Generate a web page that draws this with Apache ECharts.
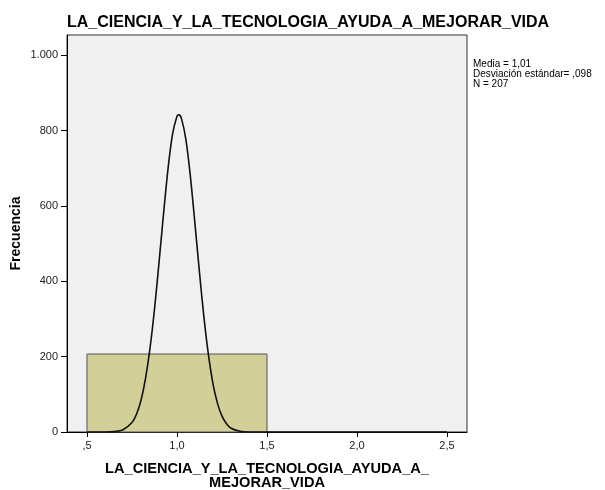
<!DOCTYPE html>
<html>
<head>
<meta charset="utf-8">
<script src="https://cdn.jsdelivr.net/npm/echarts@6/dist/echarts.min.js"></script>
<style>
  html, body { margin: 0; padding: 0; background: #fff; }
  #chart { width: 605px; height: 490px; }
</style>
</head>
<body>
<div id="chart"></div>
<script>
// histogram bins: [start, end, frequency]
const binStart = [0.5];
const binEnd = [1.5];
const binFreq = [207];

// normal curve
const curveX = [0.5, 0.6, 0.65, 0.7, 0.75, 0.775, 0.8, 0.825, 0.85, 0.875, 0.9, 0.925, 0.95, 0.975, 1.0, 1.01, 1.025, 1.05, 1.075, 1.1, 1.125, 1.15, 1.175, 1.2, 1.225, 1.25, 1.275, 1.3, 1.35, 1.4, 1.5, 2.0, 2.5];
const curveY = [0, 0, 1, 6, 25, 47, 84, 142, 222, 326, 449, 578, 698, 790, 838, 842, 832, 775, 676, 552, 423, 303, 204, 128, 76, 42, 22, 10, 2, 0, 0, 0, 0];

const xTicks = [0.5, 1.0, 1.5, 2.0, 2.5];
const xTickLabels = [',5', '1,0', '1,5', '2,0', '2,5'];
const yTicks = [0, 200, 400, 600, 800, 1000];
const yTickLabels = ['0', '200', '400', '600', '800', '1.000'];

const statsLines = ['Media = 1,01', 'Desviación estándar= ,098', 'N = 207'];

const chart = echarts.init(document.getElementById('chart'), null, { renderer: 'canvas' });

const font = 'Arial, "Liberation Sans", sans-serif';

const option = {
  animation: false,
  textStyle: { fontFamily: font },
  title: {
    text: 'LA_CIENCIA_Y_LA_TECNOLOGIA_AYUDA_A_MEJORAR_VIDA',
    left: 62,
    top: 10,
    textStyle: { fontSize: 16, fontWeight: 'bold', color: '#000', fontFamily: font }
  },
  grid: {
    left: 67,
    right: 138,
    top: 35,
    bottom: 58,
    outerBoundsMode: 'none',
    containLabel: false,
    show: true,
    backgroundColor: '#f0f0f0',
    borderColor: '#333',
    borderWidth: 1
  },
  xAxis: {
    type: 'value',
    min: 0.389,
    max: 2.611,
    name: 'LA_CIENCIA_Y_LA_TECNOLOGIA_AYUDA_A_\nMEJORAR_VIDA',
    nameLocation: 'middle',
    nameGap: 30,
    nameMoveOverlap: false,
    nameTextStyle: { fontSize: 14.6, fontWeight: 'bold', color: '#000', lineHeight: 14, fontFamily: font },
    axisLine: { onZero: false, lineStyle: { color: '#000', width: 1 } },
    axisTick: { show: true, length: 5, customValues: xTicks, lineStyle: { color: '#000' } },
    axisLabel: {
      customValues: xTicks,
      margin: 8,
      fontSize: 11,
      color: '#222',
      formatter: v => xTickLabels[xTicks.findIndex(t => Math.abs(t - v) < 1e-6)]
    },
    splitLine: { show: false }
  },
  yAxis: {
    type: 'value',
    min: 0,
    max: 1054,
    name: 'Frecuencia',
    nameLocation: 'middle',
    nameGap: 44,
    nameMoveOverlap: false,
    nameRotate: 90,
    nameTextStyle: { fontSize: 14, fontWeight: 'bold', color: '#000', fontFamily: font },
    axisLine: { show: true, lineStyle: { color: '#000', width: 1 } },
    axisTick: { show: true, length: 6, customValues: yTicks, lineStyle: { color: '#000' } },
    axisLabel: {
      customValues: yTicks,
      margin: 9,
      fontSize: 11,
      color: '#222',
      formatter: v => yTickLabels[yTicks.findIndex(t => Math.abs(t - v) < 1e-6)]
    },
    splitLine: { show: false }
  },
  graphic: [{
    type: 'text',
    left: 473,
    top: 59,
    style: {
      text: statsLines.join('\n'),
      font: '10px ' + font,
      lineHeight: 10,
      fill: '#000'
    }
  }],
  series: [
    {
      type: 'custom',
      data: binStart.map((s, i) => [s, binEnd[i], binFreq[i]]),
      renderItem: (params, api) => {
        const p0 = api.coord([api.value(0), api.value(2)]);
        const p1 = api.coord([api.value(1), 0]);
        return {
          type: 'rect',
          shape: { x: p0[0], y: p0[1], width: p1[0] - p0[0], height: p1[1] - p0[1] },
          style: { fill: '#d3cf99', stroke: '#555', lineWidth: 1 }
        };
      },
      z: 2
    },
    {
      type: 'line',
      data: curveX.map((x, i) => [x, curveY[i]]),
      smooth: 0.3,
      showSymbol: false,
      lineStyle: { color: '#111', width: 1.6 },
      z: 3
    }
  ]
};

chart.setOption(option);
</script>
</body>
</html>
